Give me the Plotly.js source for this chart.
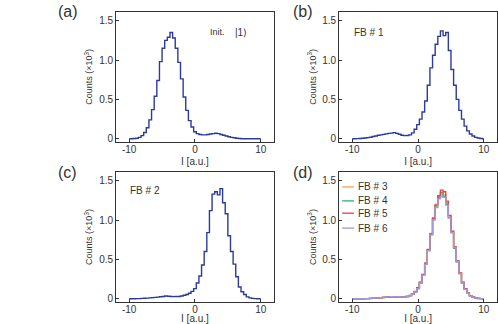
<!DOCTYPE html>
<html>
<head>
<meta charset="UTF-8">
<script src="https://cdn.plot.ly/plotly-3.0.1.min.js"></script>
<style>
  body { margin: 0; padding: 0; background: #fff; }
  #plot { width: 498px; height: 324px; }
</style>
</head>
<body>
<div id="plot"></div>
<script>
// bin centres, I [a.u.]
const bins = [-10, -9.6, -9.2, -8.8, -8.4, -8.0, -7.6, -7.2, -6.8, -6.4, -6.0, -5.6, -5.2, -4.8, -4.4, -4.0, -3.6, -3.2, -2.8, -2.4, -2.0, -1.6, -1.2, -0.8, -0.4,
  0, 0.4, 0.8, 1.2, 1.6, 2.0, 2.4, 2.8, 3.2, 3.6, 4.0, 4.4, 4.8, 5.2, 5.6, 6.0, 6.4, 6.8, 7.2, 7.6, 8.0, 8.4, 8.8, 9.2, 9.6, 10];

// (a) init |1>
const countsInit = [0, 0, 0.003, 0.007, 0.018, 0.04, 0.08, 0.14, 0.24, 0.37, 0.54, 0.74, 0.98, 1.15, 1.25, 1.29, 1.35, 1.28, 1.15, 0.97, 0.76, 0.53, 0.36, 0.23, 0.15,
  0.09, 0.065, 0.055, 0.05, 0.05, 0.055, 0.06, 0.065, 0.07, 0.065, 0.055, 0.045, 0.035, 0.025, 0.018, 0.012, 0.006, 0.003, 0, 0, 0, 0, 0, 0, 0, 0];

// (b) FB #1
const countsFB1 = [0, 0, 0.002, 0.004, 0.006, 0.01, 0.015, 0.02, 0.028, 0.036, 0.044, 0.05, 0.056, 0.062, 0.068, 0.072, 0.078, 0.068, 0.058, 0.045, 0.04, 0.042, 0.05, 0.075, 0.12,
  0.18, 0.25, 0.34, 0.48, 0.68, 0.9, 1.06, 1.2, 1.3, 1.37, 1.31, 1.35, 1.12, 0.88, 0.68, 0.5, 0.36, 0.25, 0.16, 0.1, 0.06, 0.035, 0.018, 0.01, 0.004, 0];

// (c) FB #2
const countsFB2 = [0, 0, 0, 0.002, 0.003, 0.005, 0.007, 0.009, 0.012, 0.015, 0.018, 0.022, 0.026, 0.03, 0.036, 0.032, 0.03, 0.028, 0.03, 0.03, 0.035, 0.045, 0.055, 0.07, 0.095,
  0.13, 0.2, 0.29, 0.43, 0.6, 0.84, 1.12, 1.33, 1.36, 1.32, 1.4, 1.22, 1.08, 0.8, 0.6, 0.44, 0.28, 0.15, 0.09, 0.055, 0.025, 0.012, 0.005, 0.002, 0, 0];

// (d) FB #3 .. #6
const countsFB3 = [0, 0, 0, 0, 0, 0.002, 0.003, 0.005, 0.008, 0.01, 0.012, 0.015, 0.018, 0.02, 0.022, 0.024, 0.026, 0.024, 0.022, 0.022, 0.025, 0.03, 0.04, 0.06, 0.09,
  0.14, 0.21, 0.31, 0.46, 0.63, 0.83, 1.03, 1.2, 1.3, 1.33, 1.32, 1.22, 1.05, 0.86, 0.66, 0.48, 0.33, 0.21, 0.13, 0.075, 0.04, 0.02, 0.01, 0.005, 0.002, 0];
const countsFB4 = [0, 0, 0, 0, 0.001, 0.002, 0.003, 0.005, 0.007, 0.01, 0.013, 0.015, 0.017, 0.02, 0.023, 0.025, 0.024, 0.023, 0.021, 0.023, 0.026, 0.031, 0.042, 0.058, 0.088,
  0.13, 0.2, 0.3, 0.44, 0.62, 0.82, 1.02, 1.18, 1.29, 1.35, 1.3, 1.2, 1.03, 0.84, 0.64, 0.47, 0.32, 0.2, 0.12, 0.07, 0.038, 0.019, 0.009, 0.004, 0.002, 0];
const countsFB5 = [0, 0, 0, 0, 0, 0.002, 0.003, 0.004, 0.007, 0.009, 0.012, 0.014, 0.018, 0.021, 0.022, 0.024, 0.025, 0.023, 0.022, 0.021, 0.024, 0.03, 0.041, 0.06, 0.092,
  0.14, 0.21, 0.31, 0.45, 0.62, 0.82, 1.02, 1.19, 1.31, 1.38, 1.36, 1.24, 1.06, 0.86, 0.66, 0.48, 0.33, 0.21, 0.13, 0.075, 0.04, 0.02, 0.01, 0.005, 0.002, 0];
const countsFB6 = [0, 0, 0, 0, 0, 0.002, 0.003, 0.005, 0.008, 0.01, 0.012, 0.015, 0.019, 0.021, 0.024, 0.027, 0.028, 0.026, 0.023, 0.022, 0.024, 0.029, 0.04, 0.058, 0.088,
  0.13, 0.2, 0.3, 0.44, 0.61, 0.81, 1.0, 1.16, 1.27, 1.3, 1.29, 1.19, 1.03, 0.84, 0.65, 0.47, 0.32, 0.2, 0.12, 0.07, 0.037, 0.018, 0.009, 0.004, 0.002, 0];

const fbNames = ['FB # 3', 'FB # 4', 'FB # 5', 'FB # 6'];
const fbColors = ['#f7a25a', '#2fb36b', '#e9413f', '#a597dc'];
const fbCounts = [countsFB3, countsFB4, countsFB5, countsFB6];

const blue = '#2c3a9e';
const font = 'Liberation Sans, Arial, sans-serif';
const grey = '#333';

function step(y, xa, ya, color, name) {
  return {
    x: bins, y: y, xaxis: xa, yaxis: ya, type: 'scatter', mode: 'lines',
    line: { shape: 'hvh', color: color, width: 1.4 },
    name: name || '', showlegend: false, hoverinfo: 'skip'
  };
}

const data = [
  step(countsInit, 'x', 'y', blue),
  step(countsFB1, 'x2', 'y2', blue),
  step(countsFB2, 'x3', 'y3', blue)
];
fbCounts.forEach((c, i) => data.push(step(c, 'x4', 'y4', fbColors[i], fbNames[i])));

function xax(dom, anchor) {
  return {
    domain: dom, anchor: anchor, range: [-12, 12], tickvals: [-10, 0, 10], ticktext: ['-10', '0', '10'],
    ticks: 'inside', ticklen: 3, tickcolor: grey, showline: true, mirror: true, linecolor: grey, linewidth: 1,
    showgrid: false, zeroline: false, tickfont: { family: font, size: 10, color: grey },
    ticklabelstandoff: -2,
    title: { text: 'I [a.u.]', font: { family: font, size: 10, color: grey }, standoff: 4 }
  };
}
function yax(dom, anchor) {
  return {
    domain: dom, anchor: anchor, range: [-0.04, 1.61], tickvals: [0, 0.5, 1, 1.5], ticktext: ['0', '0.5', '1.0', '1.5'],
    ticks: 'inside', ticklen: 3, tickcolor: grey, showline: true, mirror: true, linecolor: grey, linewidth: 1,
    showgrid: false, zeroline: false, tickfont: { family: font, size: 10, color: grey },
    title: { text: 'Counts (×10<sup>3</sup>)', font: { family: font, size: 9, color: grey }, standoff: 4 }
  };
}

const xl = [0.233, 0.550], xr = [0.681, 0.998];
const yt = [0.562, 0.963], yb = [0.068, 0.469];

const ann = (text, x, y, size) => ({
  text: text, xref: 'paper', yref: 'paper', x: x, y: y, xanchor: 'left', yanchor: 'middle',
  showarrow: false, font: { family: font, size: size, color: grey }
});

// hand-made key for panel (d): short line + label per series
const keyRows = [0.423, 0.380, 0.342, 0.296];
const keyShapes = fbNames.map((n, i) => ({
  type: 'line', xref: 'paper', yref: 'paper', x0: 0.687, x1: 0.711, y0: keyRows[i], y1: keyRows[i],
  line: { color: fbColors[i], width: 1.3 }
}));
const keyLabels = fbNames.map((n, i) => ann(n, 0.714, keyRows[i], 10));

const layout = {
  width: 498, height: 324, margin: { l: 0, r: 0, t: 0, b: 0 },
  paper_bgcolor: '#fff', plot_bgcolor: '#fff', font: { family: font },
  showlegend: false,
  xaxis: xax(xl, 'y'), yaxis: yax(yt, 'x'),
  xaxis2: xax(xr, 'y2'), yaxis2: yax(yt, 'x2'),
  xaxis3: xax(xl, 'y3'), yaxis3: yax(yb, 'x3'),
  xaxis4: xax(xr, 'y4'), yaxis4: yax(yb, 'x4'),
  shapes: keyShapes,
  annotations: [
    ann('(a)', 0.113, 0.963, 16),
    ann('(b)', 0.585, 0.963, 16),
    ann('(c)', 0.113, 0.469, 16),
    ann('(d)', 0.585, 0.469, 16),
    ann('Init.', 0.418, 0.901, 9),
    ann('|1⟩', 0.468, 0.901, 10),
    ann('FB # 1', 0.706, 0.901, 10),
    ann('FB # 2', 0.258, 0.413, 10)
  ].concat(keyLabels)
};

Plotly.newPlot('plot', data, layout, { staticPlot: true, displayModeBar: false });
</script>
</body>
</html>
